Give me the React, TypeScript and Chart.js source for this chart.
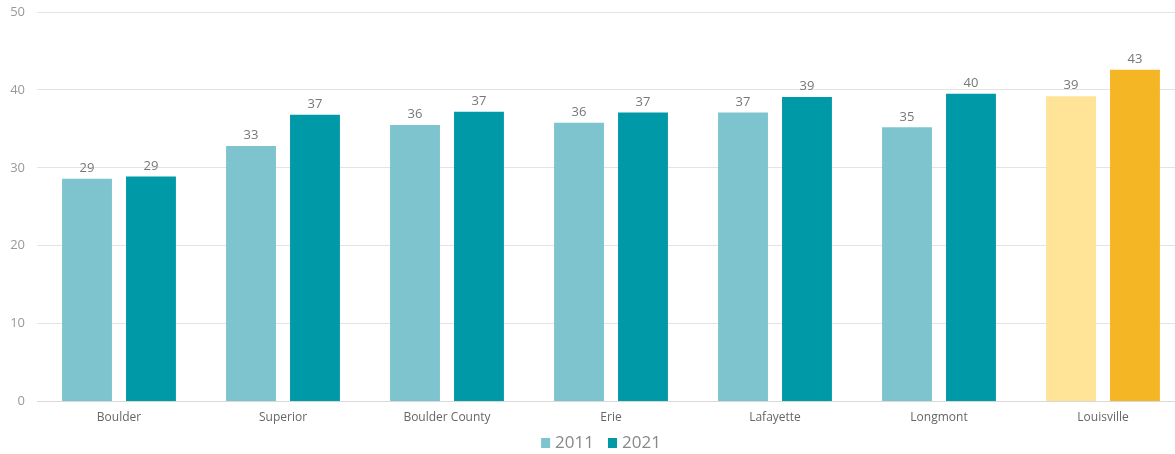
import React, { useEffect, useRef } from "react";
import { Chart, registerables } from "chart.js";

Chart.register(...registerables);

const categories = ["Boulder", "Superior", "Boulder County", "Erie", "Lafayette", "Longmont", "Louisville"];
const seriesLabels = ["2011", "2021"];
const values2011 = [28.6, 32.8, 35.5, 35.8, 37.1, 35.2, 39.2];
const values2021 = [28.9, 36.8, 37.2, 37.1, 39.1, 39.5, 42.6];
const highlightCategory = "Louisville";
const yTicks = [0, 10, 20, 30, 40, 50];

const FONT = "'Open Sans', 'Noto Sans', sans-serif";
const SERIES_COLORS = ["#7DC4CF", "#0099A8"];
const HIGHLIGHT_COLORS = ["#FFE397", "#F5B625"];

const valueLabels = {
  id: "valueLabels",
  afterDatasetsDraw(chart: any) {
    const ctx = chart.ctx;
    ctx.save();
    ctx.font = `13px ${FONT}`;
    ctx.fillStyle = "#777777";
    ctx.textAlign = "center";
    ctx.textBaseline = "bottom";
    chart.data.datasets.forEach((ds: any, di: number) => {
      const meta = chart.getDatasetMeta(di);
      meta.data.forEach((el: any, i: number) => {
        ctx.fillText(String(Math.round(ds.data[i])), el.x, el.y - 4);
      });
    });
    ctx.restore();
  },
};

const customLegend = {
  id: "customLegend",
  afterDraw(chart: any) {
    const ctx = chart.ctx;
    ctx.save();
    ctx.font = `17px ${FONT}`;
    ctx.textBaseline = "middle";
    ctx.textAlign = "left";
    const boxW = 9;
    const boxH = 10;
    const boxGap = 5;
    const itemGap = 14;
    const widths = seriesLabels.map((l) => boxW + boxGap + ctx.measureText(l).width);
    const total = widths.reduce((a, b) => a + b, 0) + itemGap * (seriesLabels.length - 1);
    const cy = 443;
    let x = 601 - total / 2;
    seriesLabels.forEach((l, i) => {
      ctx.fillStyle = SERIES_COLORS[i];
      ctx.fillRect(x, cy - boxH / 2, boxW, boxH);
      ctx.fillStyle = "#888888";
      ctx.fillText(l, x + boxW + boxGap, cy);
      x += widths[i] + itemGap;
    });
    ctx.restore();
  },
};

export default function App() {
  const ref = useRef<HTMLCanvasElement>(null);
  useEffect(() => {
    const c1 = categories.map((c) => (c === highlightCategory ? HIGHLIGHT_COLORS[0] : SERIES_COLORS[0]));
    const c2 = categories.map((c) => (c === highlightCategory ? HIGHLIGHT_COLORS[1] : SERIES_COLORS[1]));
    const chart = new Chart(ref.current!, {
      type: "bar",
      data: {
        labels: categories,
        datasets: [
          { label: seriesLabels[0], data: values2011, backgroundColor: c1, borderWidth: 0 },
          { label: seriesLabels[1], data: values2021, backgroundColor: c2, borderWidth: 0 },
        ],
      },
      options: {
        animation: false,
        responsive: false,
        devicePixelRatio: 1,
        layout: { padding: { top: 0, left: 0, right: 0, bottom: 28 } },
        datasets: { bar: { barPercentage: 0.78, categoryPercentage: 0.78 } },
        scales: {
          x: {
            grid: { display: false },
            border: { color: "#d9d9d9", width: 1 },
            ticks: { color: "#666666", font: { family: FONT, size: 12 }, padding: 1 },
          },
          y: {
            min: 0,
            max: 50,
            afterBuildTicks: (axis: any) => {
              axis.ticks = yTicks.map((v) => ({ value: v }));
            },
            afterFit: (axis: any) => {
              axis.width = 37;
              axis.paddingTop = 12;
              axis.paddingBottom = 0;
            },
            grid: { color: "#e3e3e3", drawTicks: false },
            border: { display: false },
            ticks: { color: "#999999", font: { family: FONT, size: 13 }, padding: 12 },
          },
        },
        plugins: {
          legend: { display: false },
          tooltip: { enabled: false },
        },
      },
      plugins: [valueLabels, customLegend],
    });
    return () => chart.destroy();
  }, []);
  return (
    <div style={{ position: "absolute", left: 0, top: 0, width: 1175, height: 454, overflow: "hidden", background: "#fff" }}>
      <canvas ref={ref} width={1185} height={454} style={{ display: "block" }} />
    </div>
  );
}
